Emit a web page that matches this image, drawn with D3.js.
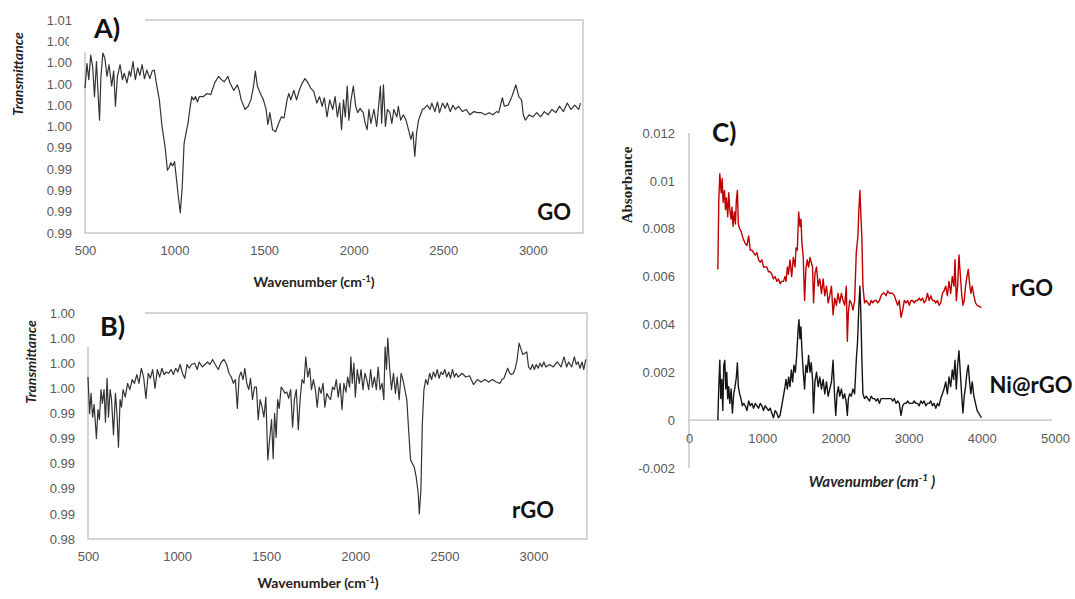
<!DOCTYPE html>
<html>
<head>
<meta charset="utf-8">
<script src="https://cdn.jsdelivr.net/npm/d3@7"></script>
<style>
  body { margin: 0; background: #fff; }
  svg { display: block; font-family: Lato, "Open Sans", sans-serif; }
  .tick text { fill: #595959; font-size: 13px; }
</style>
</head>
<body>
<script>
// ---- panel A : GO transmittance
var goWn = [500,511,521,532,543,553,564,574,581,589,600,611,623,634,649,660,670,681,696,709,
  719,734,747,755,768,781,794,806,819,832,845,862,875,887,900,915,930,947,960,968,
  979,989,1000,1011,1021,1032,1043,1053,1064,1075,1085,1096,1106,1117,1128,1138,1160,1181,1202,1224,
  1245,1262,1277,1298,1309,1330,1351,1362,1372,1394,1411,1426,1441,1451,1462,1479,1496,1511,1521,1532,
  1547,1564,1581,1596,1611,1628,1638,1649,1666,1681,1696,1713,1728,1745,1760,1777,1794,1809,1824,1836,
  1851,1866,1883,1896,1909,1922,1932,1943,1953,1964,1973,1985,1998,2011,2022,2036,2053,2064,2075,2085,
  2096,2113,2128,2139,2149,2156,2166,2177,2188,2202,2213,2224,2241,2249,2262,2277,2292,2309,2319,2330,
  2341,2351,2362,2373,2383,2394,2411,2426,2436,2453,2468,2479,2496,2511,2522,2539,2554,2568,2585,2607,
  2628,2649,2671,2692,2713,2734,2756,2777,2798,2809,2830,2841,2862,2883,2905,2922,2937,2947,2958,2979,
  3000,3022,3043,3064,3085,3107,3128,3149,3171,3192,3213,3234,3256,3266];
var goT = [0.9996,1.0019,1.0004,1.0027,1.0016,0.9988,1.0021,0.9988,0.9966,1.0007,
  1.0029,1.0024,1.0007,1.0018,0.9998,1.0012,0.9979,1.0007,1.0018,1.0004,
  1.0010,1.0001,1.0012,1.0007,1.0021,1.0004,1.0015,1.0008,1.0018,1.0005,
  1.0013,1.0005,1.0012,1.0013,0.9999,0.9985,0.9960,0.9941,0.9919,0.9921,
  0.9926,0.9923,0.9927,0.9910,0.9894,0.9879,0.9904,0.9944,0.9954,0.9963,
  0.9976,0.9988,0.9985,0.9988,0.9983,0.9988,0.9988,0.9991,0.9990,1.0001,
  1.0007,1.0004,1.0002,1.0007,1.0001,0.9994,0.9999,0.9993,0.9985,0.9976,
  0.9979,0.9985,0.9998,1.0012,0.9998,0.9991,0.9985,0.9976,0.9962,0.9973,
  0.9957,0.9955,0.9963,0.9969,0.9968,0.9985,0.9991,0.9985,0.9994,0.9985,
  0.9994,1.0001,1.0005,1.0001,0.9996,0.9993,0.9982,0.9988,0.9979,0.9987,
  0.9969,0.9985,0.9976,0.9988,0.9969,0.9982,0.9957,0.9985,0.9969,0.9998,
  0.9966,0.9985,0.9998,0.9979,0.9973,0.9977,0.9973,0.9963,0.9957,0.9976,
  0.9963,0.9976,0.9960,0.9979,0.9998,0.9963,0.9999,0.9960,0.9976,0.9973,
  0.9963,0.9976,0.9969,0.9979,0.9966,0.9971,0.9966,0.9955,0.9948,0.9955,
  0.9932,0.9954,0.9966,0.9971,0.9976,0.9977,0.9980,0.9976,0.9982,0.9974,
  0.9983,0.9973,0.9982,0.9977,0.9982,0.9974,0.9980,0.9976,0.9979,0.9974,
  0.9976,0.9971,0.9974,0.9973,0.9973,0.9971,0.9973,0.9971,0.9974,0.9973,
  0.9987,0.9979,0.9980,0.9988,0.9999,0.9988,0.9985,0.9971,0.9966,0.9971,
  0.9969,0.9973,0.9969,0.9974,0.9971,0.9976,0.9973,0.9979,0.9974,0.9982,
  0.9976,0.9980,0.9976,0.9982];
var goTicks = [0.986,0.988,0.990,0.992,0.994,0.996,0.998,1.000,1.002,1.004,1.006];

// ---- panel B : rGO transmittance
var rgoWn = [500,509,517,526,534,543,547,556,564,573,581,590,598,607,615,624,632,643,654,662,
  671,680,688,697,709,722,735,748,761,774,786,799,812,825,838,850,863,876,889,902,
  915,927,940,953,966,979,992,1004,1017,1030,1043,1056,1068,1081,1098,1113,1124,1141,1156,1171,
  1184,1199,1214,1231,1248,1263,1278,1291,1304,1316,1327,1338,1348,1359,1370,1380,1391,1402,1412,1423,
  1434,1445,1455,1466,1477,1487,1498,1509,1519,1530,1539,1547,1556,1564,1573,1584,1594,1605,1616,1626,
  1637,1648,1658,1669,1680,1690,1701,1712,1722,1733,1744,1754,1765,1776,1786,1797,1808,1819,1829,1840,
  1851,1861,1872,1883,1893,1904,1915,1925,1936,1947,1957,1968,1975,1983,1992,2000,2011,2022,2032,2043,
  2054,2064,2075,2086,2096,2107,2118,2128,2139,2150,2160,2167,2175,2182,2193,2203,2214,2225,2235,2246,
  2257,2267,2278,2289,2299,2310,2321,2331,2342,2353,2359,2368,2376,2385,2395,2406,2417,2428,2438,2449,
  2460,2470,2481,2492,2502,2513,2524,2534,2545,2556,2566,2577,2599,2620,2641,2663,2684,2705,2727,2748,
  2769,2791,2812,2823,2834,2844,2855,2866,2876,2887,2898,2908,2919,2930,2940,2951,2962,2972,2983,2994,
  3005,3015,3026,3037,3047,3058,3069,3090,3111,3133,3154,3171,3186,3197,3214,3229,3240,3250,3261,3272,
  3282,3293];
var rgoT = [0.9969,0.9940,0.9956,0.9937,0.9947,0.9929,0.9920,0.9943,0.9935,0.9959,
  0.9948,0.9959,0.9933,0.9968,0.9937,0.9959,0.9951,0.9923,0.9956,0.9941,
  0.9913,0.9951,0.9945,0.9959,0.9953,0.9964,0.9959,0.9967,0.9964,0.9971,
  0.9964,0.9976,0.9969,0.9952,0.9972,0.9968,0.9975,0.9960,0.9975,0.9969,
  0.9976,0.9971,0.9973,0.9972,0.9975,0.9971,0.9976,0.9973,0.9979,0.9972,
  0.9968,0.9979,0.9976,0.9979,0.9980,0.9975,0.9981,0.9977,0.9979,0.9981,
  0.9979,0.9983,0.9979,0.9975,0.9981,0.9983,0.9979,0.9972,0.9969,0.9964,
  0.9967,0.9944,0.9969,0.9973,0.9967,0.9976,0.9964,0.9959,0.9968,0.9951,
  0.9961,0.9961,0.9935,0.9951,0.9945,0.9937,0.9953,0.9903,0.9919,0.9935,
  0.9904,0.9940,0.9921,0.9951,0.9944,0.9961,0.9959,0.9956,0.9957,0.9952,
  0.9959,0.9929,0.9951,0.9959,0.9927,0.9951,0.9967,0.9964,0.9985,0.9969,
  0.9976,0.9959,0.9967,0.9959,0.9945,0.9961,0.9956,0.9964,0.9945,0.9956,
  0.9953,0.9951,0.9961,0.9959,0.9967,0.9953,0.9964,0.9943,0.9964,0.9957,
  0.9969,0.9961,0.9985,0.9964,0.9980,0.9953,0.9975,0.9964,0.9975,0.9959,
  0.9972,0.9967,0.9959,0.9975,0.9961,0.9969,0.9959,0.9977,0.9959,0.9964,
  0.9951,0.9993,0.9975,1.0000,0.9975,0.9959,0.9972,0.9956,0.9969,0.9951,
  0.9972,0.9967,0.9959,0.9951,0.9927,0.9903,0.9900,0.9897,0.9889,0.9876,
  0.9860,0.9879,0.9932,0.9959,0.9967,0.9963,0.9972,0.9967,0.9973,0.9969,
  0.9975,0.9968,0.9973,0.9971,0.9975,0.9969,0.9973,0.9968,0.9975,0.9969,
  0.9972,0.9969,0.9972,0.9969,0.9970,0.9963,0.9967,0.9965,0.9967,0.9965,
  0.9967,0.9965,0.9964,0.9967,0.9968,0.9972,0.9976,0.9972,0.9971,0.9972,
  0.9976,0.9983,0.9996,0.9991,0.9987,0.9988,0.9989,0.9977,0.9975,0.9979,
  0.9975,0.9979,0.9976,0.9980,0.9977,0.9981,0.9977,0.9979,0.9977,0.9981,
  0.9977,0.9985,0.9977,0.9981,0.9977,0.9985,0.9979,0.9981,0.9976,0.9981,
  0.9975,0.9983];
var rgoTicks = [0.984,0.986,0.988,0.990,0.992,0.994,0.996,0.998,1.000,1.002];

var leftXTicks = [500,1000,1500,2000,2500,3000];

// ---- panel C : absorbance, rGO (red) and Ni@rGO (black)
var cRgoWn = [394,407,421,439,453,466,484,498,511,529,543,557,575,588,602,620,634,647,661,674,
  692,710,738,765,792,815,837,860,882,905,928,950,973,996,1018,1041,1063,1086,1109,1131,
  1154,1177,1199,1222,1244,1267,1290,1312,1326,1344,1358,1380,1403,1425,1448,1462,1480,1498,1516,1529,
  1543,1561,1579,1597,1615,1634,1652,1670,1688,1701,1720,1742,1765,1787,1810,1833,1855,1878,1901,1923,
  1946,1968,1991,2014,2036,2059,2082,2104,2127,2149,2163,2177,2195,2217,2240,2263,2285,2308,2321,2335,
  2349,2362,2376,2398,2421,2444,2466,2489,2511,2534,2557,2579,2602,2624,2647,2670,2692,2715,2738,2760,
  2783,2806,2828,2851,2873,2896,2919,2941,2964,2987,3009,3032,3054,3077,3100,3122,3145,3168,3190,3213,
  3235,3258,3281,3303,3326,3349,3371,3394,3416,3439,3462,3484,3507,3530,3552,3575,3597,3620,3634,3652,
  3670,3688,3706,3724,3742,3760,3778,3797,3815,3833,3851,3869,3892,3914,3937,3995];
var cRgoAbs = [0.0063,0.0092,0.0103,0.0095,0.0101,0.0091,0.0096,0.0088,0.0093,0.0085,
  0.0095,0.0088,0.0084,0.0089,0.0081,0.0087,0.0082,0.0092,0.0096,0.0082,
  0.0080,0.0079,0.0076,0.0074,0.0073,0.0077,0.0071,0.0071,0.0070,0.0069,
  0.0070,0.0067,0.0066,0.0067,0.0064,0.0064,0.0064,0.0062,0.0062,0.0061,
  0.0059,0.0060,0.0058,0.0059,0.0057,0.0058,0.0058,0.0060,0.0058,0.0064,
  0.0061,0.0067,0.0060,0.0068,0.0064,0.0072,0.0071,0.0087,0.0081,0.0084,
  0.0074,0.0068,0.0050,0.0063,0.0067,0.0064,0.0068,0.0066,0.0064,0.0049,
  0.0061,0.0064,0.0056,0.0059,0.0053,0.0059,0.0052,0.0056,0.0049,0.0052,
  0.0056,0.0044,0.0051,0.0048,0.0053,0.0049,0.0053,0.0050,0.0048,0.0056,
  0.0033,0.0045,0.0050,0.0049,0.0046,0.0050,0.0070,0.0077,0.0088,0.0096,
  0.0085,0.0076,0.0056,0.0049,0.0050,0.0049,0.0048,0.0050,0.0049,0.0050,
  0.0050,0.0049,0.0050,0.0052,0.0053,0.0053,0.0052,0.0054,0.0053,0.0053,
  0.0053,0.0052,0.0050,0.0048,0.0050,0.0043,0.0046,0.0050,0.0049,0.0050,
  0.0048,0.0050,0.0050,0.0049,0.0050,0.0050,0.0051,0.0050,0.0051,0.0049,
  0.0050,0.0053,0.0050,0.0052,0.0050,0.0050,0.0049,0.0050,0.0048,0.0049,
  0.0053,0.0054,0.0056,0.0052,0.0058,0.0053,0.0060,0.0056,0.0067,0.0050,
  0.0056,0.0069,0.0061,0.0053,0.0048,0.0050,0.0056,0.0060,0.0063,0.0057,
  0.0053,0.0056,0.0052,0.0049,0.0048,0.0047];

var cNiWn = [394,407,421,434,448,462,475,489,502,516,529,543,557,575,593,611,629,647,661,674,
  692,710,729,747,769,792,815,837,860,882,905,928,950,973,996,1018,1041,1063,1086,1109,
  1131,1154,1177,1199,1222,1244,1267,1290,1312,1326,1344,1362,1380,1398,1416,1434,1453,1471,1489,1502,
  1516,1529,1543,1561,1579,1597,1615,1634,1652,1670,1688,1701,1720,1742,1765,1787,1810,1833,1855,1878,
  1901,1923,1946,1968,1991,2005,2023,2041,2059,2082,2104,2127,2149,2163,2177,2195,2217,2240,2263,2285,
  2303,2321,2335,2349,2362,2376,2398,2421,2444,2466,2489,2511,2534,2557,2579,2602,2624,2647,2670,2692,
  2715,2738,2760,2783,2806,2828,2851,2873,2896,2919,2941,2964,2987,3009,3032,3054,3077,3100,3122,3145,
  3168,3190,3213,3235,3258,3281,3303,3326,3349,3371,3394,3416,3439,3462,3484,3507,3530,3552,3575,3597,
  3615,3634,3652,3670,3688,3706,3724,3742,3760,3778,3797,3815,3833,3851,3869,3892,3914,3937,3995];
var cNiAbs = [0.0000,0.0014,0.0025,0.0009,0.0017,0.0004,0.0023,0.0025,0.0013,0.0020,
  0.0009,0.0014,0.0007,0.0013,0.0003,0.0011,0.0014,0.0018,0.0024,0.0014,
  0.0011,0.0009,0.0006,0.0007,0.0006,0.0004,0.0008,0.0006,0.0007,0.0005,
  0.0007,0.0006,0.0005,0.0007,0.0006,0.0004,0.0006,0.0005,0.0004,0.0005,
  0.0003,0.0001,0.0004,0.0003,0.0001,0.0002,0.0006,0.0010,0.0014,0.0017,
  0.0013,0.0018,0.0014,0.0021,0.0016,0.0023,0.0020,0.0027,0.0037,0.0042,
  0.0034,0.0039,0.0029,0.0020,0.0013,0.0023,0.0020,0.0027,0.0020,0.0024,
  0.0017,0.0003,0.0016,0.0020,0.0014,0.0018,0.0013,0.0017,0.0011,0.0016,
  0.0010,0.0013,0.0016,0.0025,0.0009,0.0002,0.0011,0.0014,0.0010,0.0013,
  0.0009,0.0011,0.0007,0.0002,0.0009,0.0011,0.0010,0.0013,0.0011,0.0025,
  0.0033,0.0048,0.0056,0.0043,0.0025,0.0011,0.0009,0.0010,0.0009,0.0008,
  0.0010,0.0009,0.0009,0.0008,0.0009,0.0007,0.0009,0.0009,0.0009,0.0009,
  0.0009,0.0009,0.0009,0.0008,0.0009,0.0007,0.0008,0.0007,0.0002,0.0006,
  0.0007,0.0007,0.0008,0.0007,0.0007,0.0007,0.0008,0.0007,0.0007,0.0006,
  0.0008,0.0007,0.0008,0.0006,0.0007,0.0007,0.0008,0.0006,0.0007,0.0005,
  0.0007,0.0006,0.0009,0.0011,0.0013,0.0016,0.0011,0.0018,0.0014,0.0021,
  0.0017,0.0025,0.0013,0.0023,0.0029,0.0020,0.0011,0.0003,0.0010,0.0014,
  0.0020,0.0023,0.0016,0.0011,0.0016,0.0010,0.0007,0.0004,0.0001];
var cYTicks = [-0.002,0,0.002,0.004,0.006,0.008,0.01,0.012];
var cXTicks = [0,1000,2000,3000,4000,5000];

var W = 1075, H = 599;
var axisColor = "#bfbfbf";

var svg = d3.select("body").append("svg")
    .attr("width", W)
    .attr("height", H);

function zip(a, b) { return a.map(function (d, i) { return [d, b[i]]; }); }

// left-hand transmittance panels (A and B)
function drawTransPanel(o) {
  var x = d3.scaleLinear().domain(o.xDomain).range([o.left, o.right]);
  var y = d3.scaleLinear().domain(o.yDomain).range([o.bottom, o.top]);
  var g = svg.append("g");

  // plot area frame
  g.append("rect")
    .attr("x", o.left).attr("y", o.top)
    .attr("width", o.right - o.left).attr("height", o.bottom - o.top)
    .attr("fill", "none").attr("stroke", axisColor).attr("stroke-width", 1.3);

  g.append("path")
    .datum(zip(o.wn, o.val))
    .attr("fill", "none")
    .attr("stroke", "#333")
    .attr("stroke-width", 1.2)
    .attr("stroke-linejoin", "round")
    .attr("d", d3.line().x(function (d) { return x(d[0]); }).y(function (d) { return y(d[1]); }));

  var yAx = g.append("g")
    .attr("transform", "translate(" + o.left + ",0)")
    .call(d3.axisLeft(y).tickValues(o.yTicks).tickFormat(d3.format(".2f")).tickSize(0).tickPadding(o.yPad));
  yAx.select(".domain").remove();

  var xAx = g.append("g")
    .attr("transform", "translate(0," + o.bottom + ")")
    .call(d3.axisBottom(x).tickValues(leftXTicks).tickFormat(d3.format("d")).tickSize(0).tickPadding(13));
  xAx.select(".domain").remove();

  // white boxes behind the panel letter (they cover the frame corner, as in the figure)
  o.boxes.forEach(function (b) {
    g.append("rect")
      .attr("x", b[0]).attr("y", b[1])
      .attr("width", b[2]).attr("height", b[3])
      .attr("fill", "#fff");
  });
  g.append("text")
    .attr("x", o.letterX).attr("y", o.letterY)
    .attr("font-size", 27).attr("font-weight", "bold").attr("fill", "#111")
    .text(o.letter);

  g.append("text")
    .attr("x", o.nameX).attr("y", o.nameY)
    .attr("text-anchor", "end")
    .attr("font-size", 22).attr("font-weight", "bold").attr("fill", "#111")
    .text(o.name);

  g.append("text")
    .attr("transform", "translate(" + o.yTitleX + "," + o.yTitleY + ") rotate(-90)")
    .attr("text-anchor", "middle")
    .attr("font-size", 14).attr("font-weight", "bold").attr("font-style", "italic").attr("fill", "#222")
    .text("Transmittance");

  var xt = g.append("text")
    .attr("x", o.xTitleX).attr("y", o.xTitleY)
    .attr("text-anchor", "middle")
    .attr("font-size", 14).attr("font-weight", "bold").attr("fill", "#222");
  xt.append("tspan").text("Wavenumber (cm");
  xt.append("tspan").attr("font-size", 9).attr("dy", -5).text("-1");
  xt.append("tspan").attr("dy", 5).text(")");
}

drawTransPanel({
  wn: goWn, val: goT, xDomain: [500, 3280], yDomain: [0.986, 1.006], yTicks: goTicks,
  left: 85, right: 583, top: 20, bottom: 233, yPad: 13,
  boxes: [[74, 0, 71, 31], [69, 31, 76, 21]], letter: "A)", letterX: 94, letterY: 38,
  name: "GO", nameX: 571, nameY: 220,
  yTitleX: 23, yTitleY: 74, xTitleX: 314, xTitleY: 287
});

drawTransPanel({
  wn: rgoWn, val: rgoT, xDomain: [500, 3300], yDomain: [0.984, 1.002], yTicks: rgoTicks,
  left: 88, right: 587, top: 313, bottom: 539, yPad: 13,
  boxes: [[77, 290, 68, 57]], letter: "B)", letterX: 100, letterY: 336,
  name: "rGO", nameX: 554, nameY: 518,
  yTitleX: 36, yTitleY: 362, xTitleX: 318, xTitleY: 588
});

// ---- panel C
(function () {
  var left = 689, right = 1055, top = 133, bottom = 468;
  var x = d3.scaleLinear().domain([0, 5000]).range([left, right]);
  var y = d3.scaleLinear().domain([-0.002, 0.012]).range([bottom, top]);
  var g = svg.append("g");

  g.append("line")
    .attr("x1", left).attr("x2", left).attr("y1", top).attr("y2", bottom)
    .attr("stroke", axisColor).attr("stroke-width", 1.3);
  g.append("line")
    .attr("x1", left).attr("x2", x(4960)).attr("y1", y(0)).attr("y2", y(0))
    .attr("stroke", axisColor).attr("stroke-width", 1.3);

  var line = d3.line().x(function (d) { return x(d[0]); }).y(function (d) { return y(d[1]); });
  g.append("path").datum(zip(cRgoWn, cRgoAbs))
    .attr("fill", "none").attr("stroke", "#c00000").attr("stroke-width", 1.4)
    .attr("stroke-linejoin", "round").attr("d", line);
  g.append("path").datum(zip(cNiWn, cNiAbs))
    .attr("fill", "none").attr("stroke", "#151515").attr("stroke-width", 1.4)
    .attr("stroke-linejoin", "round").attr("d", line);

  var fmt = function (d) { return d === 0 ? "0" : String(+d.toFixed(3)); };
  var yAx = g.append("g").attr("transform", "translate(" + left + ",0)")
    .call(d3.axisLeft(y).tickValues(cYTicks).tickFormat(fmt).tickSize(0).tickPadding(14));
  yAx.select(".domain").remove();

  var xAx = g.append("g").attr("transform", "translate(0," + y(0) + ")")
    .call(d3.axisBottom(x).tickValues(cXTicks).tickFormat(d3.format("d")).tickSize(0).tickPadding(14));
  xAx.select(".domain").remove();

  g.append("text")
    .attr("x", 712).attr("y", 142)
    .attr("font-size", 26).attr("font-weight", "bold").attr("fill", "#111")
    .text("C)");

  g.append("text")
    .attr("transform", "translate(632,185) rotate(-90)")
    .attr("text-anchor", "middle")
    .attr("font-family", "'Liberation Serif', 'DejaVu Serif', serif")
    .attr("font-size", 15).attr("font-weight", "bold").attr("fill", "#222")
    .text("Absorbance");

  var xt = g.append("text")
    .attr("x", 872).attr("y", 487)
    .attr("text-anchor", "middle")
    .attr("font-size", 15).attr("font-weight", "bold").attr("font-style", "italic").attr("fill", "#222");
  xt.append("tspan").text("Wavenumber (cm");
  xt.append("tspan").attr("font-size", 10).attr("dy", -6).text("-1");
  xt.append("tspan").attr("dy", 6).text(" )");

  g.append("text")
    .attr("x", 1032).attr("y", 296)
    .attr("text-anchor", "middle")
    .attr("font-size", 22).attr("font-weight", "bold").attr("fill", "#111")
    .text("rGO");
  g.append("text")
    .attr("x", 1031).attr("y", 393)
    .attr("text-anchor", "middle")
    .attr("font-size", 22).attr("font-weight", "bold").attr("fill", "#111")
    .text("Ni@rGO");
})();
</script>
</body>
</html>
